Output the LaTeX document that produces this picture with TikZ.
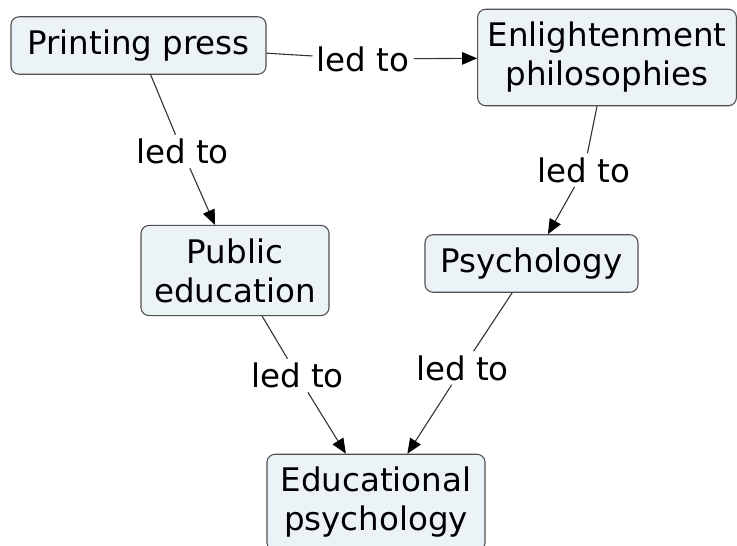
\documentclass[tikz,border=0pt]{standalone}
\usepackage{fontspec}
\setmainfont{DejaVu Sans}
\usepackage{tikz}
\usetikzlibrary{arrows.meta}
\definecolor{cmapfill}{HTML}{EBF3F6}
\definecolor{cmapedge}{HTML}{505050}
\definecolor{cmapline}{HTML}{333333}
\tikzset{
  concept/.style={rounded corners=8pt,draw=cmapedge,fill=cmapfill,line width=1.1pt,align=center,inner xsep=10pt,inner ysep=13pt},
  linkword/.style={inner sep=4pt},
  ln/.style={draw=cmapline,line width=1.1pt},
  ar/.style={ln,-{Triangle[length=15pt,width=12.5pt,color=black]}},
}
\begin{document}
\begin{tikzpicture}[x=1pt,y=-1pt,font=\fontsize{32.5}{39}\selectfont]
    \useasboundingbox (0,0) rectangle (737,546);
    % concepts
    \node[concept,minimum width=255pt] (press) at (138.5,45.5) {Printing press};
    \node[concept,minimum width=254pt] (enlight) at (607,57.5) {Enlightenment\\philosophies};
    \node[concept,minimum width=188pt] (public) at (235,270.5) {Public\\education};
    \node[concept,minimum width=213pt] (psych) at (531.5,263.5) {Psychology};
    \node[concept,minimum width=218pt] (edpsych) at (376,502.5) {Educational\\psychology};
    % linking words
    \node[linkword] (l1) at (363,59) {led to};
    \node[linkword] (l2) at (182.5,151.5) {led to};
    \node[linkword] (l3) at (584,170) {led to};
    \node[linkword] (l4) at (297.5,375.5) {led to};
    \node[linkword] (l5) at (462.5,368) {led to};
    \draw[ln] (press) -- (l1); \draw[ar] (l1) -- (enlight);
    \draw[ln] (press) -- (l2); \draw[ar] (l2) -- (public);
    \draw[ln] (enlight) -- (l3); \draw[ar] (l3) -- (psych);
    \draw[ln] (public) -- (l4); \draw[ar] (l4) -- (edpsych);
    \draw[ln] (psych) -- (l5); \draw[ar] (l5) -- (edpsych);
\end{tikzpicture}
\end{document}
